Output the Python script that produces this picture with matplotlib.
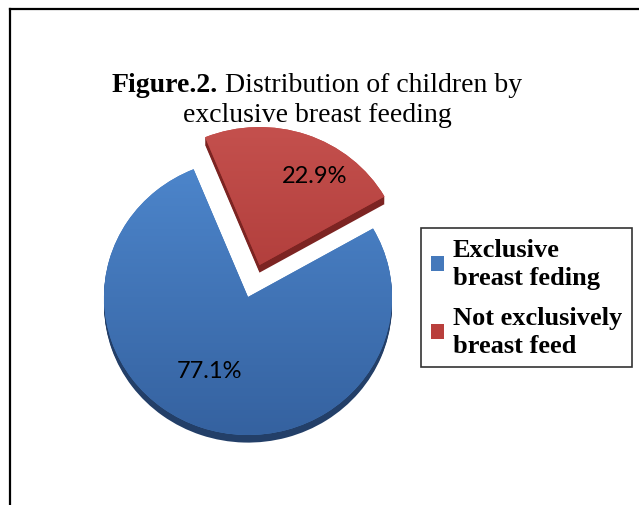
import numpy as np
import matplotlib.pyplot as plt
from matplotlib.patches import Wedge, Patch
from matplotlib.lines import Line2D
from matplotlib.colors import LinearSegmentedColormap

# data
labels = ['Exclusive\nbreast feding', 'Not exclusively\nbreast feed']
values = [77.1, 22.9]
explode = [0, 0.245]

colors = ['#4579bb', '#b93f3c']
top_colors = ['#4d86cc', '#c4504d']
bottom_colors = ['#3562a0', '#a12f2d']
side_colors = ['#233f68', '#7c2422']

title_bold = 'Figure.2.'
title_rest = ' Distribution of children by'
title_line2 = 'exclusive breast feeding'

W, H = 639, 506
fig = plt.figure(figsize=(W / 100, H / 100), dpi=100)

# frame (top + left only)
fig.add_artist(Line2D([10 / W, 1], [1 - 10 / H, 1 - 10 / H], color='black', lw=1.6))
fig.add_artist(Line2D([10 / W, 10 / W], [0, 1 - 10 / H], color='black', lw=1.6))

# pie axes: 1 unit = 144 px across, 138 px down
ax = fig.add_axes([32 / W, 1 / H, 432 / W, 414 / H])
wedges, texts, autotexts = ax.pie(values, explode=explode, colors=colors, startangle=112.2,
                                  autopct='%1.1f%%', pctdistance=0.68,
                                  wedgeprops=dict(linewidth=0),
                                  textprops=dict(family='Lato', fontsize=17, color='black'))
ax.set_aspect('auto')
ax.set_axis_off()

# fake 3d: extrusion underneath + vertical gradient on top
dz = 0.055
grad = np.linspace(0, 1, 100).reshape(-1, 1)
for i, w in enumerate(wedges):
    cx, cy = w.center
    for k in range(1, 8):
        sw = Wedge((cx, cy - dz * k / 7), w.r, w.theta1, w.theta2,
                   color=side_colors[i], lw=0, zorder=0.5)
        ax.add_patch(sw)
    w.set_zorder(1)
    cmap = LinearSegmentedColormap.from_list('g%d' % i, [bottom_colors[i], top_colors[i]])
    im = ax.imshow(grad, extent=[cx - w.r, cx + w.r, cy - w.r, cy + w.r], cmap=cmap,
                   aspect='auto', origin='lower', zorder=1.5)
    im.set_clip_path(w)
ax.set_xlim(-1.5, 1.5)
ax.set_ylim(-1.5, 1.5)

# label placement (Excel puts them a bit off the bisector)
label_xy = [(-0.264, -0.536), (0.465, 0.877)]
for t, xy in zip(autotexts, label_xy):
    t.set_position(xy)
    t.set_zorder(3)

# legend
handles = [Patch(facecolor=c, edgecolor='none') for c in colors]
leg = fig.legend(handles, labels, loc='upper left',
                 bbox_to_anchor=(421 / W, 1 - 229 / H),
                 prop=dict(family='Liberation Serif', weight='bold', size=19),
                 frameon=True, fancybox=False, edgecolor='black',
                 handlelength=0.5, handleheight=0.5, handletextpad=0.33,
                 borderpad=0.38, labelspacing=0.62, borderaxespad=0)
leg.get_frame().set_linewidth(1.2)
for t in leg.get_texts():
    t.set_linespacing(1.3)

# title, bold part + regular part centred together
fs = 20
cx_title = 317 / W
y1 = 1 - 92 / H
y2 = 1 - 122 / H
tb = fig.text(0, y1, title_bold, family='Liberation Serif', weight='bold', size=fs, va='baseline')
tr = fig.text(0, y1, title_rest, family='Liberation Serif', size=fs, va='baseline')
fig.canvas.draw()
r = fig.canvas.get_renderer()
wb = tb.get_window_extent(r).width / W
wr = tr.get_window_extent(r).width / W
x0 = cx_title - (wb + wr) / 2
tb.set_x(x0)
tr.set_x(x0 + wb)
fig.text(cx_title, y2, title_line2, family='Liberation Serif', size=fs, ha='center', va='baseline')

fig.savefig('out.png', dpi=100)
